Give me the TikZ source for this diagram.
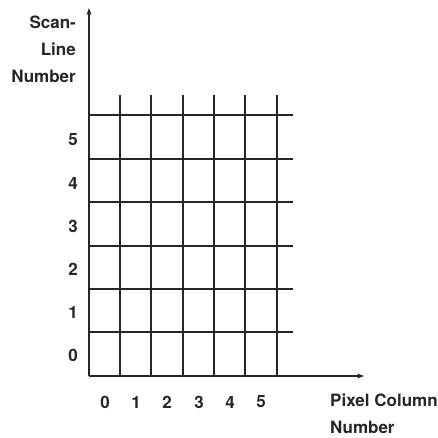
\documentclass[tikz,border=0pt]{standalone}
\usepackage{fontspec}
\setmainfont{TeX Gyre Heros}
\usetikzlibrary{arrows.meta}
\begin{document}
\begin{tikzpicture}[x=1pt,y=-1pt,
  gridline/.style={line width=1.5pt,black!85},
  axisline/.style={line width=1.5pt,black!85,-{Stealth[length=7pt,width=5pt]}},
  lbl/.style={font=\fontsize{17}{17}\selectfont\bfseries,inner sep=0pt,text=black!85},
  ttl/.style={font=\fontsize{17}{27}\selectfont\bfseries,inner sep=0pt,text=black!85}]
\useasboundingbox (0,0) rectangle (437,438);
\coordinate (O) at (89,376);
\coordinate (Ytop) at (89,8);
\coordinate (Xend) at (364,376);
% horizontal grid lines
\foreach \hy in {115,159,202,246,289,332}
  \draw[gridline] (89,\hy) -- (293,\hy);
% vertical grid lines
\foreach \vx in {120,151,183,214,245,277}
  \draw[gridline] (\vx,95) -- (\vx,376);
% axes
\draw[axisline] (O) -- (Ytop);
\draw[axisline] (O) -- (Xend);
% row labels
\node[lbl] (r5) at (73,140) {5};
\node[lbl] (r4) at (73,183) {4};
\node[lbl] (r3) at (73,226) {3};
\node[lbl] (r2) at (73,269) {2};
\node[lbl] (r1) at (73,312) {1};
\node[lbl] (r0) at (73,355) {0};
% column labels
\node[lbl] (c0) at (105,402) {0};
\node[lbl] (c1) at (136,402) {1};
\node[lbl] (c2) at (167,402) {2};
\node[lbl] (c3) at (199,402) {3};
\node[lbl] (c4) at (230,402) {4};
\node[lbl] (c5) at (261,402) {5};
% titles
\node[ttl,align=right,anchor=north east] (ytitle) at (76,16) {Scan-\\Line\\Number};
\node[ttl,align=left,anchor=north west] (xtitle) at (330,394) {Pixel Column\\Number};
\end{tikzpicture}
\end{document}
